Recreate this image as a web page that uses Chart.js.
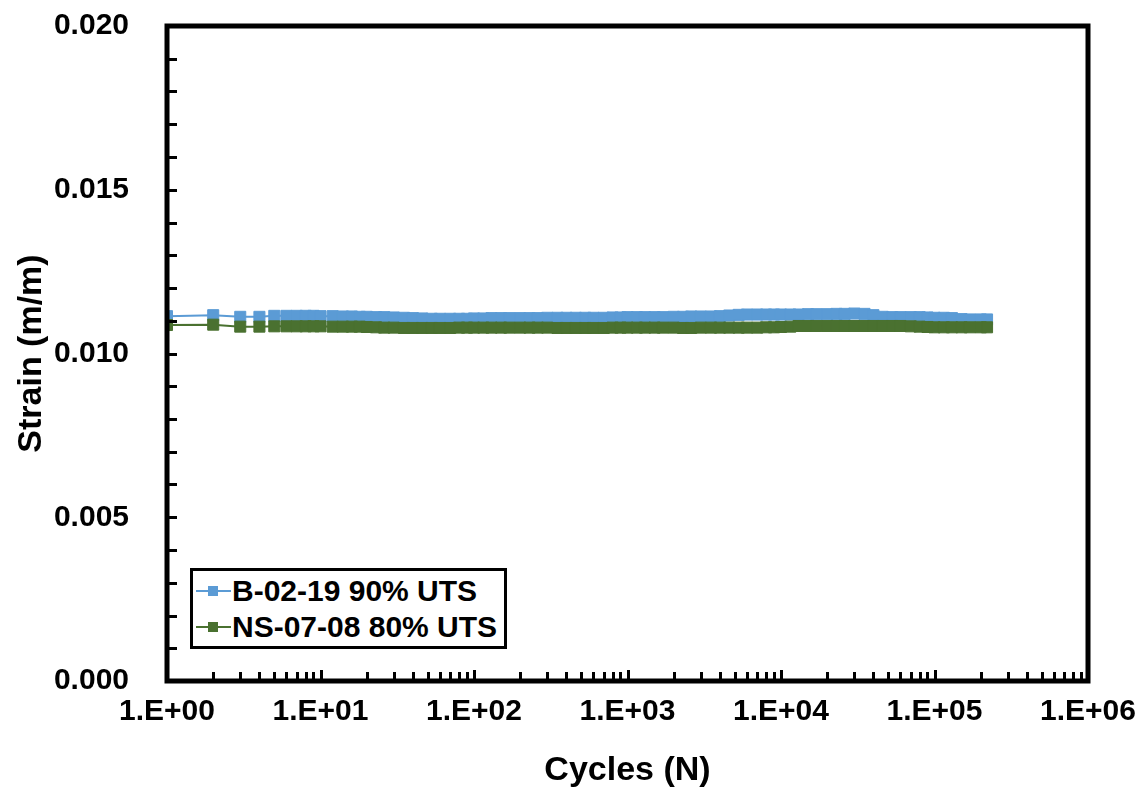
<!DOCTYPE html>
<html>
<head>
<meta charset="utf-8">
<script src="https://cdn.jsdelivr.net/npm/chart.js@4.4.1/dist/chart.umd.min.js"></script>
<style>
  html, body { margin: 0; padding: 0; background: #fff; }
  #wrap { position: relative; width: 1148px; height: 794px; }
  canvas { position: absolute; left: 0; top: 0; }
  #legend {
    position: absolute; left: 190px; top: 568px; width: 311px; height: 75px;
    border: 3px solid #000; background: #fff;
    font-family: "Liberation Sans", Arial, sans-serif; font-weight: bold; font-size: 30px; color: #000;
  }
  .item { position: absolute; left: 0; height: 36px; line-height: 36px; white-space: nowrap; }
  .sample { position: absolute; left: 3px; top: 17px; width: 35px; height: 2px; }
  .mark { position: absolute; left: 15px; top: 13px; width: 10px; height: 10px; }
  .label { position: absolute; left: 39px; top: 0; }
</style>
</head>
<body>
<div id="wrap">
  <canvas id="c" width="1148" height="794"></canvas>
  <div id="legend">
    <div class="item" style="top:2px"><div class="sample" style="background:#5b9bd5"></div><div class="mark" style="background:#5b9bd5"></div><span class="label">B-02-19 90% UTS</span></div>
    <div class="item" style="top:38px"><div class="sample" style="background:#4a7130"></div><div class="mark" style="background:#4a7130"></div><span class="label">NS-07-08 80% UTS</span></div>
  </div>
</div>
<script>
const cycles = [1,2,3,4,5,6,7,8,9,10,12,14,16,18,20,23,26,30,35,40,46,53,60,70,80,90,100,
  115,130,150,170,200,230,260,300,350,400,460,530,600,700,800,900,1000,
  1150,1300,1500,1700,2000,2300,2600,3000,3500,4000,4600,5300,6000,7000,8000,9000,10000,
  11500,13000,15000,17000,20000,23000,26000,30000,35000,40000,46000,53000,60000,70000,80000,90000,100000,
  115000,130000,150000,170000,200000,220000];

const strainB0219 = [0.01114,0.01117,0.01112,0.01112,0.01115,0.01115,0.01115,0.01115,0.01115,0.01114,0.01114,0.01113,0.01113,0.01112,0.01112,0.01111,0.01111,0.01110,0.01109,0.01108,0.01107,0.01106,0.01106,0.01106,0.01106,0.01106,0.01107,
  0.01107,0.01108,0.01108,0.01108,0.01108,0.01108,0.01108,0.01109,0.01109,0.01109,0.01109,0.01109,0.01109,0.01109,0.01110,0.01110,0.01111,
  0.01111,0.01111,0.01111,0.01111,0.01112,0.01112,0.01113,0.01113,0.01113,0.01114,0.01116,0.01118,0.01119,0.01119,0.01119,0.01119,0.01119,
  0.01119,0.01119,0.01120,0.01120,0.01120,0.01121,0.01121,0.01122,0.01121,0.01117,0.01112,0.01111,0.01111,0.01111,0.01111,0.01110,0.01109,
  0.01109,0.01108,0.01105,0.01104,0.01104,0.01104];

const strainNS0708 = [0.01087,0.01088,0.01082,0.01082,0.01083,0.01083,0.01083,0.01083,0.01083,0.01083,0.01082,0.01082,0.01082,0.01082,0.01081,0.01080,0.01079,0.01079,0.01078,0.01078,0.01078,0.01078,0.01078,0.01078,0.01079,0.01079,0.01079,
  0.01079,0.01079,0.01079,0.01079,0.01079,0.01079,0.01079,0.01079,0.01078,0.01078,0.01078,0.01078,0.01078,0.01078,0.01079,0.01079,0.01079,
  0.01079,0.01079,0.01079,0.01079,0.01079,0.01078,0.01078,0.01079,0.01079,0.01079,0.01079,0.01079,0.01079,0.01079,0.01080,0.01080,0.01081,
  0.01082,0.01084,0.01084,0.01084,0.01084,0.01084,0.01084,0.01084,0.01084,0.01084,0.01084,0.01084,0.01084,0.01083,0.01082,0.01081,0.01080,
  0.01080,0.01080,0.01080,0.01080,0.01080,0.01080];

const xTickValues = [1,10,100,1000,10000,100000,1000000];
const xTickLabels = ['1.E+00','1.E+01','1.E+02','1.E+03','1.E+04','1.E+05','1.E+06'];
const yTickLabels = ['0.000','0.005','0.010','0.015','0.020'];

const BLUE = '#5b9bd5';
const GREEN = '#4a7130';
const FONT = '"Liberation Sans", Arial, sans-serif';

const frameTicks = {
  id: 'frameTicks',
  afterDraw(chart) {
    const ctx = chart.ctx;
    const a = chart.chartArea;
    const xs = chart.scales.x, ys = chart.scales.y;
    ctx.save();
    ctx.strokeStyle = '#000';
    ctx.lineCap = 'butt';
    ctx.lineWidth = 3;
    for (let i = 0; i <= 20; i++) {
      const y = Math.round(ys.getPixelForValue(i * 0.001)) + 0.5;
      ctx.beginPath();
      ctx.moveTo(a.left, y);
      ctx.lineTo(a.left + 10, y);
      ctx.stroke();
    }
    for (let d = 0; d < 6; d++) {
      for (let k = 1; k <= 9; k++) {
        const v = k * Math.pow(10, d);
        const x = Math.round(xs.getPixelForValue(v)) + 0.5;
        ctx.beginPath();
        ctx.moveTo(x, a.bottom);
        ctx.lineTo(x, a.bottom - (k === 1 ? 11 : 9));
        ctx.stroke();
      }
    }
    ctx.lineWidth = 5;
    ctx.strokeRect(a.left, a.top, a.right - a.left, a.bottom - a.top);
    ctx.restore();
  }
};

Chart.defaults.color = '#000';
Chart.defaults.font.family = FONT;

new Chart(document.getElementById('c'), {
  type: 'line',
  data: {
    datasets: [
      {
        label: 'NS-07-08 80% UTS',
        data: cycles.map((c, i) => ({ x: c, y: strainNS0708[i] })),
        borderColor: GREEN, backgroundColor: GREEN,
        pointBackgroundColor: GREEN, pointBorderColor: GREEN,
        borderWidth: 2, pointStyle: 'rect', pointRadius: 7.8, pointBorderWidth: 1,
        tension: 0, order: 0
      },
      {
        label: 'B-02-19 90% UTS',
        data: cycles.map((c, i) => ({ x: c, y: strainB0219[i] })),
        borderColor: BLUE, backgroundColor: BLUE,
        pointBackgroundColor: BLUE, pointBorderColor: BLUE,
        borderWidth: 2, pointStyle: 'rect', pointRadius: 7.8, pointBorderWidth: 1,
        tension: 0, order: 1
      }
    ]
  },
  options: {
    responsive: false,
    animation: false,
    devicePixelRatio: 1,
    layout: { padding: { top: 26, right: 60, left: 0, bottom: 0 } },
    plugins: { legend: { display: false }, tooltip: { enabled: false } },
    scales: {
      x: {
        type: 'logarithmic',
        min: 1, max: 1000000,
        grid: { display: false, drawTicks: false },
        border: { display: false },
        afterBuildTicks(scale) { scale.ticks = xTickValues.map(v => ({ value: v, major: true })); },
        afterFit(scale) { scale.height = 113; scale.paddingLeft = 0; scale.paddingRight = 0; },
        ticks: {
          autoSkip: false, maxRotation: 0, minRotation: 0, padding: 13,
          font: { size: 30, weight: 'bold', family: FONT },
          callback(v) { const i = xTickValues.indexOf(v); return i >= 0 ? xTickLabels[i] : null; }
        },
        title: {
          display: true, text: 'Cycles (N)',
          font: { size: 34, weight: 'bold', family: FONT },
          padding: { top: 0, bottom: 3 }
        }
      },
      y: {
        type: 'linear',
        min: 0, max: 0.02,
        grid: { display: false, drawTicks: false },
        border: { display: false },
        afterFit(scale) { scale.width = 167; scale.paddingTop = 0; scale.paddingBottom = 0; },
        ticks: {
          stepSize: 0.005, padding: 38,
          font: { size: 30, weight: 'bold', family: FONT },
          callback(v) { return yTickLabels[Math.round(v / 0.005)]; }
        },
        title: {
          display: true, text: 'Strain (m/m)',
          font: { size: 34, weight: 'bold', family: FONT },
          padding: { top: 11, bottom: 0 }
        }
      }
    }
  },
  plugins: [frameTicks]
});
</script>
</body>
</html>
